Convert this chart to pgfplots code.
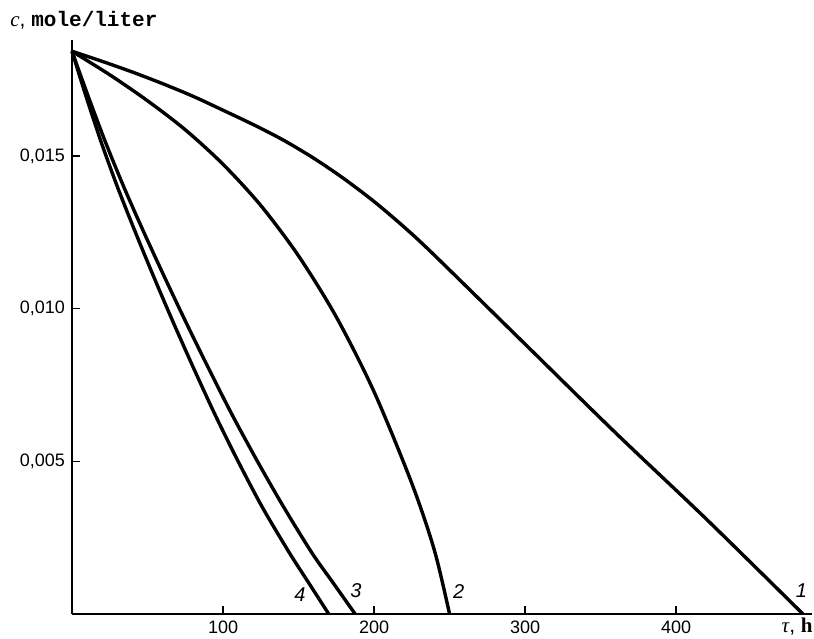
\documentclass[border=0pt]{standalone}
\usepackage{fontspec}
\setmainfont{Liberation Sans}
\newfontfamily\monofont{Liberation Mono}
\newfontfamily\seriffont{Liberation Serif}
\usepackage{pgfplots}
\pgfplotsset{compat=1.18}

\begin{document}
\begin{tikzpicture}
\useasboundingbox (0pt,0pt) rectangle (407pt,319pt);
\begin{axis}[
  at={(36pt,12pt)}, anchor=south west,
  scale only axis, width=370pt, height=287pt,
  xmin=0, xmax=490, ymin=0, ymax=0.0188,
  axis x line*=bottom, axis y line*=left,
  axis line style={line width=0.6pt, -},
  xtick={100,200,300,400}, ytick={0.005,0.010,0.015},
  xticklabels={100,200,300,400},
  yticklabels={{0,005},{0,010},{0,015}},
  scaled y ticks=false, scaled x ticks=false,
  tick align=inside, major tick length=4pt,
  tick style={line width=0.6pt, black},
  ticklabel style={font=\fontsize{9}{10}\selectfont},
  xticklabel style={anchor=base, yshift=-9.5pt},
  clip=false,
]
% curve 1
\addplot[black, line width=1.7pt, smooth, tension=0.5] coordinates {
 (0,0.01843) (20,0.01810) (40,0.01775) (60,0.01737) (80,0.01696)
 (100,0.01650) (120,0.01603) (140,0.01552) (160,0.01493) (180,0.01426)
 (200,0.01351) (220,0.01267) (240,0.01175) (300,0.00884) (360,0.00593)
 (420,0.00311) (484,0)
};
% curve 2
\addplot[black, line width=1.7pt, smooth, tension=0.5] coordinates {
 (0,0.01843) (25,0.01766) (50,0.01681) (75,0.01586) (100,0.01473)
 (125,0.01338) (150,0.01173) (175,0.00973) (200,0.00728) (225,0.00428)
 (240,0.00208) (250,0)
};
% curve 3
\addplot[black, line width=1.7pt, smooth, tension=0.5] coordinates {
 (0,0.01843) (10.4,0.0170) (21.8,0.0155) (34.2,0.0140) (47.6,0.0125)
 (61.6,0.0110) (76,0.0095) (90.9,0.0080) (106.3,0.0065) (122.8,0.0050)
 (140.2,0.0035) (158.9,0.0020) (173.2,0.0010) (187.5,0)
};
% curve 4
\addplot[black, line width=1.7pt, smooth, tension=0.5] coordinates {
 (0,0.01843) (9,0.0170) (19,0.0155) (30,0.0140) (42,0.0125)
 (54.5,0.0110) (67.5,0.0095) (81,0.0080) (95,0.0065) (110,0.0050)
 (126,0.0035) (144,0.0020) (157,0.0010) (170,0)
};
\node[font=\itshape\fontsize{10}{12}\selectfont] at (axis cs:151,0.00065) {4};
\node[font=\itshape\fontsize{10}{12}\selectfont] at (axis cs:188,0.00075) {3};
\node[font=\itshape\fontsize{10}{12}\selectfont] at (axis cs:256,0.00075) {2};
\node[font=\itshape\fontsize{10}{12}\selectfont] at (axis cs:483,0.00078) {1};
\end{axis}
\node[anchor=base west, inner sep=0pt] at (5pt,305.5pt)
  {\fontsize{10.5}{12}\selectfont{\seriffont\itshape c}, {\monofont\bfseries mole/liter}};
\node[anchor=base east, inner sep=0pt] at (406.5pt,3pt)
  {\fontsize{10.5}{12}\selectfont{\seriffont\itshape τ}, {\seriffont\bfseries h}};
\end{tikzpicture}
\end{document}
